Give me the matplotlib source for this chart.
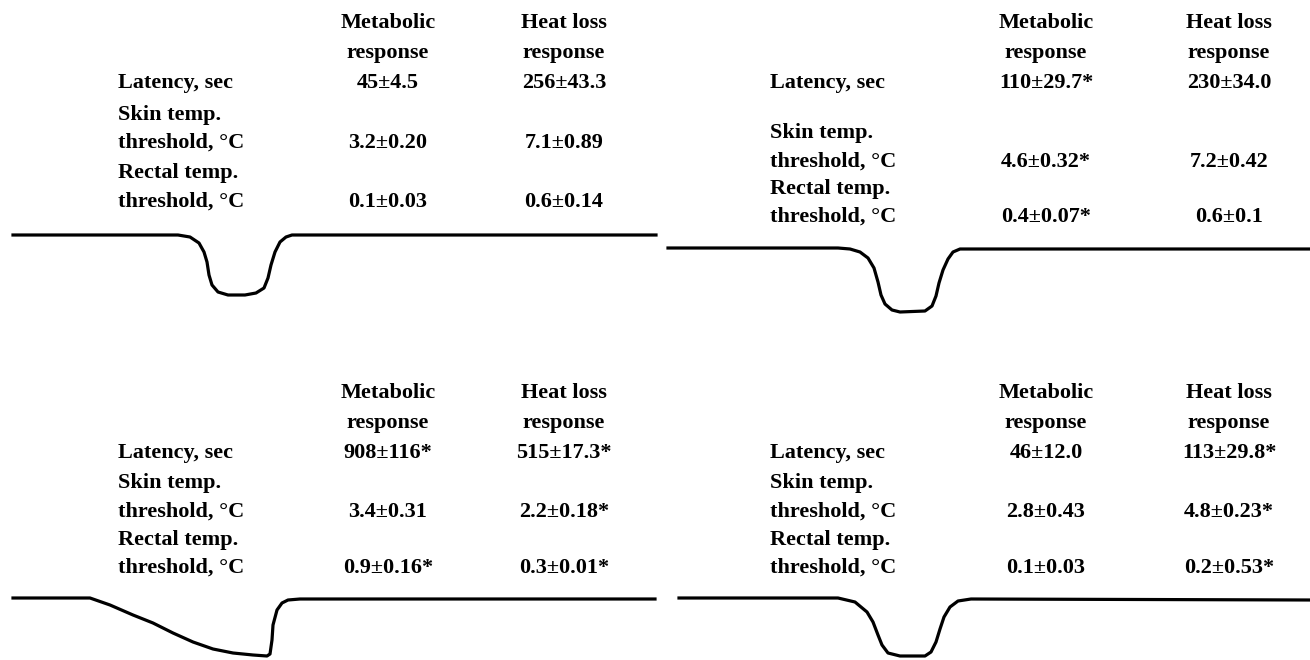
import matplotlib.pyplot as plt

plt.rcParams['font.family'] = ['Liberation Serif', 'DejaVu Serif']

W, H = 1310, 660

# table text
col_headers = [("Metabolic", "response"), ("Heat loss", "response")]
row_titles = ["", "Skin temp.", "Rectal temp."]
row_labels = ["Latency, sec", "threshold, °C", "threshold, °C"]

# panel values (metabolic / heat loss)
metab_a = ["45±4.5", "3.2±0.20", "0.1±0.03"]
heat_a = ["256±43.3", "7.1±0.89", "0.6±0.14"]
metab_b = ["110±29.7*", "4.6±0.32*", "0.4±0.07*"]
heat_b = ["230±34.0", "7.2±0.42", "0.6±0.1"]
metab_c = ["908±116*", "3.4±0.31", "0.9±0.16*"]
heat_c = ["515±17.3*", "2.2±0.18*", "0.3±0.01*"]
metab_d = ["46±12.0", "2.8±0.43", "0.1±0.03"]
heat_d = ["113±29.8*", "4.8±0.23*", "0.2±0.53*"]

# cooling traces: time (arb. units) and temperature drop (arb. units)
time_a = [13, 178, 190, 199, 204, 207, 209, 212, 218, 228, 245, 256, 264, 268, 271, 275, 280, 286, 292, 656]
drop_a = [0, 0, 2, 8, 17, 27, 40, 50, 57, 60, 60, 58, 53, 43, 30, 17, 7, 2, 0, 0]
time_b = [8, 178, 190, 200, 208, 214, 218, 221, 225, 232, 240, 265, 272, 276, 279, 283, 288, 293, 300, 650]
drop_b = [0, 0, 1, 4, 10, 20, 34, 47, 56, 62, 64, 63, 58, 48, 35, 22, 11, 4, 1, 1]
time_c = [13, 90, 110, 133, 153, 173, 193, 213, 233, 253, 267, 270, 272, 273, 277, 282, 288, 300, 655]
drop_c = [0, 0, 7, 17, 25, 35, 44, 51, 55, 57, 58, 56, 42, 27, 12, 5, 2, 1, 1]
time_d = [19, 178, 195, 207, 213, 218, 222, 228, 240, 265, 271, 276, 280, 284, 290, 298, 311, 650]
drop_d = [0, 0, 4, 14, 24, 37, 47, 55, 58, 58, 54, 44, 31, 19, 9, 3, 1, 2]

# layout (pixels): left, label x, column centres, row y's, trace baseline
panels = [
    dict(x0=0, lx=118, cols=(388, 564), ys=(23, 53, 83, 115, 143, 173, 202), base=235,
         metab=metab_a, heat=heat_a, t=time_a, d=drop_a),
    dict(x0=660, lx=770, cols=(1046, 1229), ys=(23, 53, 83, 133, 162, 189, 217), base=248,
         metab=metab_b, heat=heat_b, t=time_b, d=drop_b),
    dict(x0=0, lx=118, cols=(388, 564), ys=(393, 423, 453, 483, 512, 540, 568), base=598,
         metab=metab_c, heat=heat_c, t=time_c, d=drop_c),
    dict(x0=660, lx=770, cols=(1046, 1229), ys=(393, 423, 453, 483, 512, 540, 568), base=598,
         metab=metab_d, heat=heat_d, t=time_d, d=drop_d),
]

fig = plt.figure(figsize=(W / 100, H / 100), dpi=100)
fs = 16


def put(x, y, s, ha='left'):
    fig.text(x / W, 1 - y / H, s, ha=ha, va='center', fontsize=fs,
             fontweight='bold', color='black')


for p in panels:
    ys = p['ys']
    # column headers
    for cx, (h1, h2) in zip(p['cols'], col_headers):
        put(cx, ys[0], h1, ha='center')
        put(cx, ys[1], h2, ha='center')
    # rows
    value_rows = [ys[2], ys[4], ys[6]]
    title_rows = [None, ys[3], ys[5]]
    for i in range(3):
        if row_titles[i]:
            put(p['lx'], title_rows[i], row_titles[i])
        put(p['lx'], value_rows[i], row_labels[i])
        put(p['cols'][0], value_rows[i], p['metab'][i], ha='center')
        put(p['cols'][1], value_rows[i], p['heat'][i], ha='center')

    # temperature trace
    ax = fig.add_axes([p['x0'] / W, 1 - (p['base'] + 65) / H, 655 / W, 70 / H])
    ax.plot(p['t'], p['d'], color='black', lw=2.3, solid_joinstyle='round',
            clip_on=False)
    ax.set_xlim(0, 655)
    ax.set_ylim(65, -5)
    ax.axis('off')

fig.savefig('out.png', dpi=100, facecolor='white')
